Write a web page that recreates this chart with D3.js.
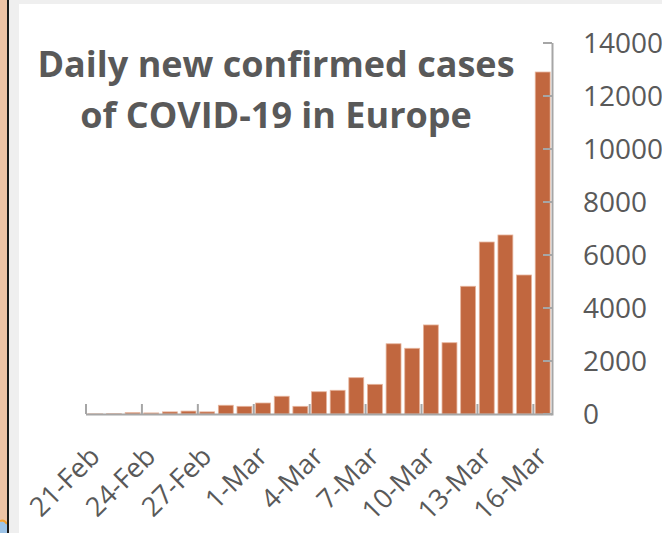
<!DOCTYPE html>
<html>
<head>
<meta charset="utf-8">
<script src="https://cdn.jsdelivr.net/npm/d3@7"></script>
<style>
  body { margin: 0; background: #fff; }
  text { font-family: "Open Sans", sans-serif; fill: #595959; }
</style>
</head>
<body>
<div class="graph"></div>
<script>
// data
var days = ["21-Feb", "22-Feb", "23-Feb", "24-Feb", "25-Feb", "26-Feb", "27-Feb", "28-Feb", "29-Feb",
            "1-Mar", "2-Mar", "3-Mar", "4-Mar", "5-Mar", "6-Mar", "7-Mar", "8-Mar", "9-Mar", "10-Mar",
            "11-Mar", "12-Mar", "13-Mar", "14-Mar", "15-Mar", "16-Mar"];
var cases = [5, 10, 50, 40, 80, 110, 80, 330, 290,
             415, 670, 290, 840, 895, 1370, 1120, 2650, 2480, 3360,
             2690, 4820, 6490, 6755, 5245, 12905];
var yTicks = [0, 2000, 4000, 6000, 8000, 10000, 12000, 14000];
var titleLines = ["Daily new confirmed cases", "of COVID-19 in Europe"];

var W = 662, H = 533;
var plot = {left: 86, right: 552, top: 43, bottom: 414};

var svg = d3.select(".graph").append("svg")
    .attr("width", W)
    .attr("height", H);

// page frame bits around the chart
svg.append("rect").attr("x", 0).attr("y", 0).attr("width", W).attr("height", H).attr("fill", "#fff");
svg.append("rect").attr("x", 9).attr("y", 0).attr("width", W).attr("height", 4).attr("fill", "#efefef");
svg.append("rect").attr("x", 9).attr("y", 0).attr("width", 10).attr("height", H).attr("fill", "#efefef");
svg.append("rect").attr("x", 0).attr("y", 0).attr("width", 7).attr("height", H).attr("fill", "#edc3a5");
svg.append("rect").attr("x", 0).attr("y", 522).attr("width", 7).attr("height", 11).attr("fill", "#9dc3e6");
svg.append("path").attr("d", "M0,521 Q4,519 7,524").attr("stroke", "#f0a030").attr("stroke-width", 2).attr("fill", "none");
svg.append("rect").attr("x", 7).attr("y", 0).attr("width", 2).attr("height", H).attr("fill", "#1a1a1a");

// scales
var x = d3.scaleBand().domain(days).range([plot.left, plot.right]).paddingInner(0.2).paddingOuter(0.1);
var y = d3.scaleLinear().domain([0, 14000]).range([plot.bottom, plot.top]);

// bars
svg.selectAll("rect.bar")
    .data(cases)
    .enter().append("rect")
    .attr("class", "bar")
    .attr("x", function(d, i) { return x(days[i]); })
    .attr("y", function(d) { return y(d); })
    .attr("width", x.bandwidth())
    .attr("height", function(d) { return y(0) - y(d); })
    .attr("fill", "#c1673f")
    .attr("stroke", "#e6b49c")
    .attr("stroke-width", 0.8);

// x axis: ticks on every third category boundary, pointing up
var step = x.step();
var xAxis = svg.append("g");
xAxis.append("line")
    .attr("x1", plot.left).attr("x2", plot.right)
    .attr("y1", plot.bottom + 0.5).attr("y2", plot.bottom + 0.5)
    .attr("stroke", "#a6a6a6").attr("stroke-width", 2);
xAxis.selectAll("line.tick")
    .data(d3.range(0, days.length + 1, 3))
    .enter().append("line")
    .attr("class", "tick")
    .attr("x1", function(i) { return x.range()[0] + i * step; })
    .attr("x2", function(i) { return x.range()[0] + i * step; })
    .attr("y1", plot.bottom).attr("y2", plot.bottom - 10)
    .attr("stroke", "#a6a6a6").attr("stroke-width", 2);
xAxis.selectAll("text")
    .data(days.filter(function(d, i) { return i % 3 === 0; }))
    .enter().append("text")
    .attr("transform", function(d) {
      return "translate(" + (x(d) + x.bandwidth() / 2 + 6) + ",458) rotate(-45)";
    })
    .attr("text-anchor", "end")
    .style("font-size", "27px")
    .text(function(d) { return d; });

// y axis on the right
var yAxis = svg.append("g");
yAxis.append("line")
    .attr("x1", plot.right + 0.5).attr("x2", plot.right + 0.5)
    .attr("y1", plot.top).attr("y2", plot.bottom + 1.5)
    .attr("stroke", "#a6a6a6").attr("stroke-width", 2);
yAxis.selectAll("line.tick")
    .data(yTicks)
    .enter().append("line")
    .attr("class", "tick")
    .attr("x1", plot.right - 9).attr("x2", plot.right)
    .attr("y1", function(d) { return y(d); })
    .attr("y2", function(d) { return y(d); })
    .attr("stroke", "#a6a6a6").attr("stroke-width", 2);
yAxis.selectAll("text")
    .data(yTicks)
    .enter().append("text")
    .attr("x", 583)
    .attr("y", function(d) { return y(d); })
    .attr("dy", "0.36em")
    .style("font-size", "28px")
    .text(function(d) { return d; });

// title
svg.selectAll("text.title")
    .data(titleLines)
    .enter().append("text")
    .attr("class", "title")
    .attr("x", 276)
    .attr("y", function(d, i) { return 77 + i * 51; })
    .attr("text-anchor", "middle")
    .style("font-size", "36px")
    .style("font-weight", "bold")
    .text(function(d) { return d; });
</script>
</body>
</html>
